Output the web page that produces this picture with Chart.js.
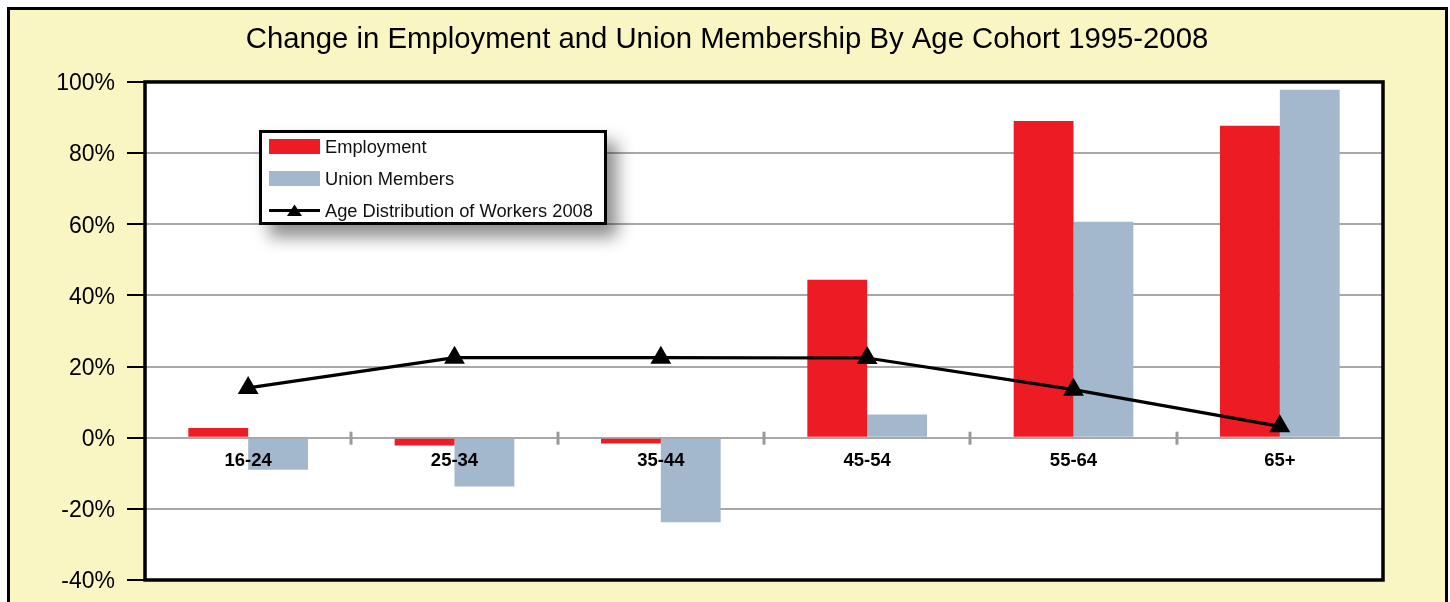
<!DOCTYPE html>
<html>
<head>
<meta charset="utf-8">
<script src="https://cdn.jsdelivr.net/npm/chart.js@4/dist/chart.umd.min.js"></script>
<style>
  html, body { margin: 0; padding: 0; background: #ffffff; width: 1450px; height: 602px; overflow: hidden; }
  #frame { position: absolute; left: 7px; top: 7px; width: 1435px; height: 640px; background: #F9F6C3; border: 3px solid #000; }
  #wrap { position: absolute; left: 0; top: 0; width: 1450px; height: 602px; }
  #legend { position: absolute; left: 259px; top: 130px; width: 342px; height: 89px; background: #fff; border: 3px solid #000;
            box-shadow: 10px 12px 16px rgba(0,0,0,0.45); font-family: "Liberation Sans", Arial, sans-serif; font-size: 18.3px; color: #111; }
  .row { position: absolute; left: 7px; height: 15px; display: flex; align-items: center; }
  .sw { width: 51px; height: 15px; margin-right: 5px; position: relative; flex: none; }
</style>
</head>
<body>
<div id="frame"></div>
<div id="wrap"><canvas id="c" width="1450" height="602"></canvas></div>
<div id="legend"></div>
<script>
const categories = ['16-24', '25-34', '35-44', '45-54', '55-64', '65+'];
const employment = [2.7, -2.2, -1.6, 44.4, 89.0, 87.7];
const unionMembers = [-9.0, -13.7, -23.8, 6.5, 60.7, 97.8];
const ageDistribution = [14.0, 22.5, 22.5, 22.4, 13.5, 3.2];
const yTicks = [-40, -20, 0, 20, 40, 60, 80, 100];

const seriesNames = ['Employment', 'Union Members', 'Age Distribution of Workers 2008'];
const RED = '#ED1C24', BLUE = '#A3B8CC';

const plotDecor = {
  id: 'plotDecor',
  beforeDraw(chart) {
    const a = chart.chartArea, ctx = chart.ctx;
    ctx.save();
    ctx.fillStyle = '#ffffff';
    ctx.fillRect(a.left, a.top, a.right - a.left, a.bottom - a.top);
    ctx.restore();
  },
  afterDatasetsDraw(chart) {
    const x = chart.scales.x, y = chart.scales.y, ctx = chart.ctx;
    const y0 = y.getPixelForValue(0);
    const half = (x.getPixelForValue(1) - x.getPixelForValue(0)) / 2;
    ctx.save();
    ctx.strokeStyle = '#9a9a9a';
    ctx.lineWidth = 3;
    for (let i = 0; i < categories.length - 1; i++) {
      const px = Math.round(x.getPixelForValue(i) + half);
      ctx.beginPath();
      ctx.moveTo(px, y0 - 6);
      ctx.lineTo(px, y0 + 7);
      ctx.stroke();
    }
    ctx.restore();
  },
  afterDraw(chart) {
    const a = chart.chartArea, ctx = chart.ctx;
    ctx.save();
    ctx.strokeStyle = '#000';
    ctx.lineWidth = 3.5;
    ctx.strokeRect(a.left, a.top, a.right - a.left, a.bottom - a.top);
    ctx.restore();
  }
};

const chart = new Chart(document.getElementById('c'), {
  data: {
    labels: categories,
    datasets: [
      { type: 'line', label: seriesNames[2], data: ageDistribution, borderColor: '#000', backgroundColor: '#000',
        borderWidth: 3.2, pointStyle: 'triangle', pointRadius: 12, pointBorderWidth: 0, tension: 0, order: 0, yAxisID: 'y' },
      { type: 'bar', label: seriesNames[0], data: employment, backgroundColor: RED, borderWidth: 0,
        barPercentage: 1, categoryPercentage: 0.58, order: 1, yAxisID: 'y' },
      { type: 'bar', label: seriesNames[1], data: unionMembers, backgroundColor: BLUE, borderWidth: 0,
        barPercentage: 1, categoryPercentage: 0.58, order: 1, yAxisID: 'y' }
    ]
  },
  options: {
    responsive: false,
    animation: false,
    layout: { padding: { left: 4, right: 0, top: 0, bottom: 22 } },
    plugins: {
      legend: { display: false },
      tooltip: { enabled: false },
      title: {
        display: true,
        text: 'Change in Employment and Union Membership By Age Cohort 1995-2008',
        color: '#000',
        font: { family: '"Liberation Sans", Arial, sans-serif', size: 29.3, weight: 'normal', lineHeight: 1.2 },
        padding: { top: 22, bottom: 24.8 }
      }
    },
    scales: {
      x: {
        type: 'category',
        position: { y: 0 },
        offset: true,
        grid: { display: false, drawTicks: false },
        border: { display: false },
        ticks: { z: 1, color: '#000', padding: 12, font: { family: '"Liberation Sans", Arial, sans-serif', size: 18.5, weight: 'bold' } }
      },
      y: {
        type: 'linear',
        position: 'left',
        min: yTicks[0],
        max: yTicks[yTicks.length - 1],
        afterBuildTicks(scale) { scale.ticks = yTicks.map(v => ({ value: v })); },
        afterFit(scale) { scale.width = 141; },
        grid: { color: '#a8a8a8', lineWidth: 2, tickColor: '#000', tickLength: 18, tickWidth: 2 },
        border: { display: false },
        ticks: { color: '#000', padding: 12, labelOffset: 2, callback: v => v + '%',
                 font: { family: '"Liberation Sans", Arial, sans-serif', size: 23, lineHeight: 0.6 } }
      },
      margin: {
        type: 'linear',
        position: 'right',
        display: true,
        grid: { display: false, drawTicks: false },
        border: { display: false },
        ticks: { display: false },
        afterFit(scale) { scale.width = 67; }
      }
    }
  },
  plugins: [plotDecor]
});

// HTML legend built from the datasets
const legend = document.getElementById('legend');
seriesNames.forEach((name, i) => {
  const row = document.createElement('div');
  row.className = 'row';
  row.style.top = (6 + i * 32) + 'px';
  const sw = document.createElement('div');
  sw.className = 'sw';
  if (i < 2) {
    sw.style.background = i === 0 ? RED : BLUE;
  } else {
    sw.innerHTML = '<svg width="51" height="15" style="position:absolute;left:0;top:0"><line x1="0" y1="7.5" x2="51" y2="7.5" stroke="#000" stroke-width="3"/><polygon points="25.5,1.5 33,13 18,13" fill="#000"/></svg>';
  }
  const t = document.createElement('span');
  t.textContent = name;
  row.appendChild(sw);
  row.appendChild(t);
  legend.appendChild(row);
});
</script>
</body>
</html>
